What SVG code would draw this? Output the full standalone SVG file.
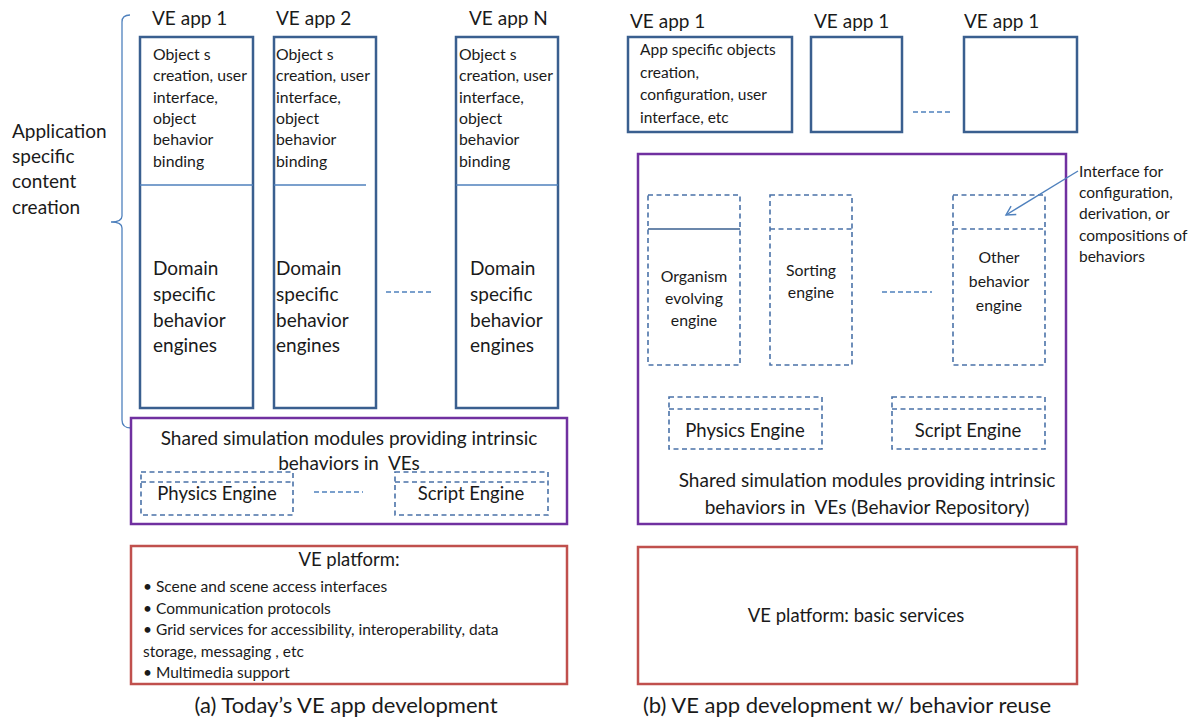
<svg xmlns="http://www.w3.org/2000/svg" width="1194" height="718" viewBox="0 0 1194 718">
<style>
text{font-family:Lato,"Liberation Sans",sans-serif;fill:#1a1a1a}
.app{fill:none;stroke:#3A5F8F;stroke-width:2.5}
.div{stroke:#4F81BD;stroke-width:1.6;fill:none}
.dash{fill:none;stroke:#4A72A8;stroke-width:1.6;stroke-dasharray:5,3.5}
.dl{fill:none;stroke:#4F81BD;stroke-width:1.3;stroke-dasharray:5,3}
.pur{fill:none;stroke:#7030A0;stroke-width:2.5}
.red{fill:none;stroke:#C0504D;stroke-width:2.5}
.t16{font-size:15.8px}
.t19{font-size:19px}
.t18{font-size:18.5px}
.t15{font-size:15.5px}
.c{text-anchor:middle}
</style>
<defs>
<marker id="ah" markerWidth="12" markerHeight="12" refX="10" refY="6" orient="auto" markerUnits="userSpaceOnUse">
<path d="M1,1 L10,6 L1,11" fill="none" stroke="#4F81BD" stroke-width="1.4"/>
</marker>
</defs>

<g id="brace">
<path d="M130,15 Q122,15 122,22 L122,216 Q122,222 111,222 Q122,222 122,228 L122,420 Q122,428 131,428" fill="none" stroke="#4F81BD" stroke-width="1.3"/>
<text class="t19" x="12" y="138">Application</text>
<text class="t19" x="12" y="163">specific</text>
<text class="t19" x="12" y="188">content</text>
<text class="t19" x="12" y="214">creation</text>
</g>

<g id="app1">
<text class="t19" x="152" y="25">VE app 1</text>
<rect class="app" x="140" y="37" width="113" height="371"/>
<line class="div" x1="140" y1="185" x2="253" y2="185"/>
<text class="t16" x="153" y="60">Object s</text>
<text class="t16" x="153" y="81">creation, user</text>
<text class="t16" x="153" y="103">interface,</text>
<text class="t16" x="153" y="124">object</text>
<text class="t16" x="153" y="145">behavior</text>
<text class="t16" x="153" y="167">binding</text>
<text class="t19" x="153" y="275">Domain</text>
<text class="t19" x="153" y="301">specific</text>
<text class="t19" x="153" y="327">behavior</text>
<text class="t19" x="153" y="352">engines</text>
</g>

<g id="app2">
<text class="t19" x="276" y="25">VE app 2</text>
<rect class="app" x="274" y="37" width="102" height="371"/>
<line class="div" x1="274" y1="185" x2="366" y2="185"/>
<text class="t16" x="276" y="60">Object s</text>
<text class="t16" x="276" y="81">creation, user</text>
<text class="t16" x="276" y="103">interface,</text>
<text class="t16" x="276" y="124">object</text>
<text class="t16" x="276" y="145">behavior</text>
<text class="t16" x="276" y="167">binding</text>
<text class="t19" x="276" y="275">Domain</text>
<text class="t19" x="276" y="301">specific</text>
<text class="t19" x="276" y="327">behavior</text>
<text class="t19" x="276" y="352">engines</text>
</g>

<g id="appN">
<text class="t19" x="469" y="25">VE app N</text>
<rect class="app" x="456" y="37" width="102" height="371"/>
<line class="div" x1="456" y1="185" x2="558" y2="185"/>
<text class="t16" x="459" y="60">Object s</text>
<text class="t16" x="459" y="81">creation, user</text>
<text class="t16" x="459" y="103">interface,</text>
<text class="t16" x="459" y="124">object</text>
<text class="t16" x="459" y="145">behavior</text>
<text class="t16" x="459" y="167">binding</text>
<text class="t19" x="470" y="275">Domain</text>
<text class="t19" x="470" y="301">specific</text>
<text class="t19" x="470" y="327">behavior</text>
<text class="t19" x="470" y="352">engines</text>
</g>

<g id="sharedA">
<rect class="pur" x="131" y="418" width="436" height="106"/>
<text class="t19 c" x="349" y="445">Shared simulation modules providing intrinsic</text>
<text class="t19 c" x="349" y="470" xml:space="preserve">behaviors in  VEs</text>
</g>
<g id="physA">
<rect class="dash" x="141" y="472" width="152" height="43"/>
<line class="dash" x1="141" y1="482" x2="293" y2="482"/>
<text class="t18 c" x="217" y="500">Physics Engine</text>
</g>
<g id="scriptA">
<rect class="dash" x="395" y="472" width="153" height="43"/>
<line class="dash" x1="395" y1="482" x2="548" y2="482"/>
<text class="t18 c" x="471" y="500">Script Engine</text>
</g>

<g id="platformA">
<rect class="red" x="131" y="546" width="436" height="138"/>
<text class="t18 c" x="349" y="566">VE platform:</text>
<text class="t15" x="143" y="592">• Scene and scene access interfaces</text>
<text class="t15" x="143" y="614">• Communication protocols</text>
<text class="t15" x="143" y="635">• Grid services for accessibility, interoperability, data</text>
<text class="t15" x="143" y="657">storage, messaging , etc</text>
<text class="t15" x="143" y="678">• Multimedia support</text>
</g>
<text id="capA" class="c" x="346" y="713" style="font-size:22px">(a) Today’s VE app development</text>

<g id="appB1">
<text class="t19" x="630" y="28">VE app 1</text>
<rect class="app" x="628" y="37" width="164" height="95"/>
<text class="t15" x="640" y="55">App specific objects</text>
<text class="t15" x="640" y="78">creation,</text>
<text class="t15" x="640" y="100">configuration, user</text>
<text class="t15" x="640" y="123">interface, etc</text>
</g>
<g id="appB2">
<text class="t19" x="814" y="28">VE app 1</text>
<rect class="app" x="811" y="37" width="91" height="95"/>
</g>
<g id="appB3">
<text class="t19" x="964" y="28">VE app 1</text>
<rect class="app" x="964" y="37" width="113" height="95"/>
</g>

<g id="sharedB">
<rect class="pur" x="638" y="154" width="428" height="370"/>
<text class="t19 c" x="867" y="487">Shared simulation modules providing intrinsic</text>
<text class="t19 c" x="867" y="514" xml:space="preserve">behaviors in  VEs (Behavior Repository)</text>
</g>
<g id="organism">
<rect class="dash" x="648" y="195" width="92" height="170"/>
<line x1="648" y1="229" x2="740" y2="229" stroke="#3A5F8F" stroke-width="1.6"/>
<text class="t16 c" x="694" y="282">Organism</text>
<text class="t16 c" x="694" y="304">evolving</text>
<text class="t16 c" x="694" y="326">engine</text>
</g>
<g id="sorting">
<rect class="dash" x="770" y="195" width="82" height="170"/>
<line class="dash" x1="770" y1="229" x2="852" y2="229"/>
<text class="t16 c" x="811" y="276">Sorting</text>
<text class="t16 c" x="811" y="298">engine</text>
</g>
<g id="other">
<rect class="dash" x="953" y="195" width="92" height="170"/>
<line class="dash" x1="953" y1="229" x2="1045" y2="229"/>
<text class="t16 c" x="999" y="263">Other</text>
<text class="t16 c" x="999" y="287">behavior</text>
<text class="t16 c" x="999" y="311">engine</text>
</g>
<g id="physB">
<rect class="dash" x="669" y="397" width="153" height="52"/>
<line class="dash" x1="669" y1="409" x2="822" y2="409"/>
<text class="t18 c" x="745" y="437">Physics Engine</text>
</g>
<g id="scriptB">
<rect class="dash" x="892" y="397" width="153" height="52"/>
<line class="dash" x1="892" y1="409" x2="1045" y2="409"/>
<text class="t18 c" x="968" y="437">Script Engine</text>
</g>

<g id="platformB">
<rect class="red" x="638" y="547" width="439" height="137"/>
<text class="c" x="856" y="622" style="font-size:18.5px">VE platform: basic services</text>
</g>
<text id="capB" class="c" x="847" y="713" style="font-size:22px">(b) VE app development w/ behavior reuse</text>

<g id="note">
<text class="t15" x="1079" y="177">Interface for</text>
<text class="t15" x="1079" y="198">configuration,</text>
<text class="t15" x="1079" y="219">derivation, or</text>
<text class="t15" x="1079" y="241">compositions of</text>
<text class="t15" x="1079" y="262">behaviors</text>
</g>

<g id="connectors">
<line class="dl" x1="386" y1="292" x2="434" y2="292"/>
<line class="dl" x1="314" y1="492" x2="363" y2="492"/>
<line class="dl" x1="913" y1="112" x2="952" y2="112"/>
<line class="dl" x1="882" y1="292" x2="932" y2="292"/>
<line x1="1078" y1="171" x2="1006" y2="215" stroke="#4F81BD" stroke-width="1.4" marker-end="url(#ah)"/>
</g>
</svg>
